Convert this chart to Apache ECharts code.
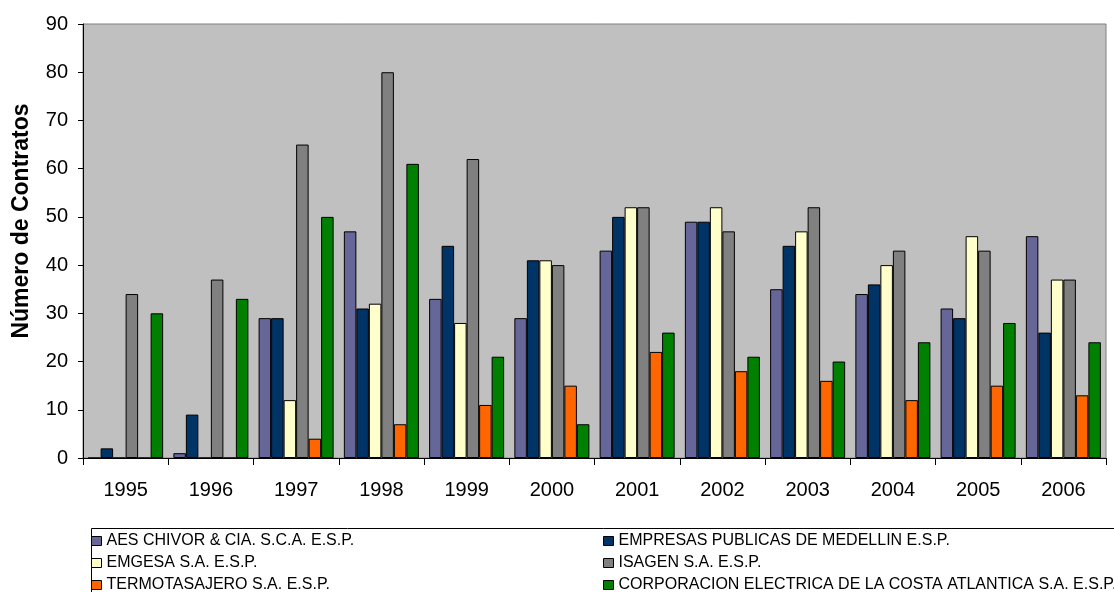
<!DOCTYPE html>
<html>
<head>
<meta charset="utf-8">
<title>Número de Contratos</title>
<script src="https://cdn.jsdelivr.net/npm/echarts@6/dist/echarts.min.js"></script>
<style>
  html, body { margin: 0; padding: 0; background: #fff; }
  #chart { width: 1114px; height: 592px; }
</style>
</head>
<body>
<div id="chart"></div>
<script>
// años
var years = ['1995', '1996', '1997', '1998', '1999', '2000', '2001', '2002', '2003', '2004', '2005', '2006'];

// contratos por empresa
var aesChivor   = [0, 1, 29, 47, 33, 29, 43, 49, 35, 34, 31, 46];
var epm         = [2, 9, 29, 31, 44, 41, 50, 49, 44, 36, 29, 26];
var emgesa      = [0, 0, 12, 32, 28, 41, 52, 52, 47, 40, 46, 37];
var isagen      = [34, 37, 65, 80, 62, 40, 52, 47, 52, 43, 43, 37];
var termotasaj  = [0, 0, 4, 7, 11, 15, 22, 18, 16, 12, 15, 13];
var corelca     = [30, 33, 50, 61, 21, 7, 26, 21, 20, 24, 28, 24];

var yTicks = [0, 10, 20, 30, 40, 50, 60, 70, 80, 90];

var names = [
    'AES CHIVOR & CIA. S.C.A. E.S.P.',
    'EMPRESAS PUBLICAS DE MEDELLIN E.S.P.',
    'EMGESA S.A. E.S.P.',
    'ISAGEN S.A. E.S.P.',
    'TERMOTASAJERO S.A. E.S.P.',
    'CORPORACION ELECTRICA DE LA COSTA ATLANTICA S.A. E.S.P.'
];
var colors = ['#666699', '#003366', '#FFFFCC', '#808080', '#FF6600', '#008000'];
var values = [aesChivor, epm, emgesa, isagen, termotasaj, corelca];

var font = 'Arial, "Liberation Sans", sans-serif';

var myChart = echarts.init(document.getElementById('chart'));

var series = names.map(function (n, i) {
    return {
        name: n,
        type: 'bar',
        data: values[i],
        barGap: '0%',
        barCategoryGap: '12%',
        itemStyle: {
            color: colors[i],
            borderColor: '#000',
            borderWidth: 1
        }
    };
});

// padding arriba para centrar el texto con el cuadrito
var legendText = { fontFamily: font, fontSize: 16, lineHeight: 16, color: '#000', padding: [2, 0, 0, 0] };
var legendIcon = { borderColor: '#000', borderWidth: 1 };

function makeLegend(x, items) {
    return {
        orient: 'vertical',
        left: x, top: 532,
        height: 80,
        padding: 0,
        itemWidth: 10, itemHeight: 9, itemGap: 4,
        icon: 'rect',
        itemStyle: legendIcon,
        textStyle: legendText,
        data: items
    };
}

myChart.setOption({
    backgroundColor: '#fff',
    animation: false,
    grid: {
        left: 83, right: 8, top: 24, bottom: 134,
        show: true,
        backgroundColor: '#C0C0C0',
        borderColor: '#808080',
        borderWidth: 1
    },
    legend: [
        makeLegend(91, [names[0], names[2], names[4]]),
        makeLegend(603, [names[1], names[3], names[5]])
    ],
    graphic: [{
        type: 'rect',
        left: 89, top: 526,
        shape: { width: 1040, height: 80 },
        style: { fill: 'none', stroke: '#000', lineWidth: 1 },
        z: -1
    }],
    xAxis: {
        type: 'category',
        data: years,
        axisLine: { lineStyle: { color: '#000' } },
        axisTick: { show: true, length: 7, lineStyle: { color: '#000' } },
        axisLabel: { fontFamily: font, fontSize: 20, color: '#000', margin: 22 }
    },
    yAxis: {
        type: 'value',
        min: 0, max: 90, interval: 10,
        name: 'Número de Contratos',
        nameLocation: 'middle',
        nameGap: 50,
        nameTextStyle: {
            fontFamily: font, fontSize: 23, fontWeight: 'bold', color: '#000',
            padding: [0, 0, 0, 40]
        },
        axisLine: { show: true, lineStyle: { color: '#000' } },
        axisTick: { show: true, length: 5, lineStyle: { color: '#000' } },
        axisLabel: {
            fontFamily: font, fontSize: 20, color: '#000', margin: 15,
            formatter: function (v) { return yTicks.indexOf(v) >= 0 ? String(v) : ''; }
        },
        splitLine: { show: false }
    },
    series: series
});

window.addEventListener('resize', function () { myChart.resize(); });
</script>
</body>
</html>
